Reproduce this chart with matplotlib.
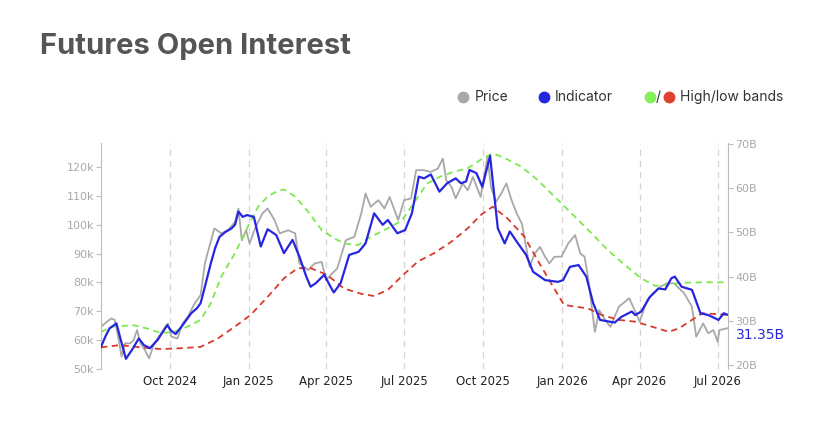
import numpy as np
import pandas as pd
import matplotlib.pyplot as plt
import matplotlib.dates as mdates
from matplotlib.lines import Line2D

# price (left axis, thousands)
price_dates = ["2024-07-13", "2024-07-20", "2024-07-25", "2024-07-29", "2024-08-02", "2024-08-06",
               "2024-08-10", "2024-08-16", "2024-08-20", "2024-08-24", "2024-08-28", "2024-09-02",
               "2024-09-07", "2024-09-13", "2024-09-21", "2024-09-29", "2024-10-03", "2024-10-10",
               "2024-10-16", "2024-10-22", "2024-10-30", "2024-11-06", "2024-11-11", "2024-11-14",
               "2024-11-22", "2024-11-30", "2024-12-08", "2024-12-16", "2024-12-20", "2024-12-24",
               "2024-12-29", "2025-01-02", "2025-01-09", "2025-01-17", "2025-01-23", "2025-01-31",
               "2025-02-06", "2025-02-16", "2025-02-24", "2025-03-01", "2025-03-11", "2025-03-19",
               "2025-03-27", "2025-04-01", "2025-04-08", "2025-04-14", "2025-04-24", "2025-05-04",
               "2025-05-12", "2025-05-17", "2025-05-23", "2025-06-01", "2025-06-08", "2025-06-14",
               "2025-06-24", "2025-07-01", "2025-07-09", "2025-07-15", "2025-07-23", "2025-08-01",
               "2025-08-09", "2025-08-15", "2025-08-19", "2025-08-25", "2025-08-30", "2025-09-07",
               "2025-09-13", "2025-09-19", "2025-09-28", "2025-10-06", "2025-10-10", "2025-10-16",
               "2025-10-22", "2025-10-28", "2025-11-03", "2025-11-09", "2025-11-15", "2025-11-20",
               "2025-11-24", "2025-11-30", "2025-12-06", "2025-12-12", "2025-12-17", "2025-12-23",
               "2025-12-31", "2026-01-08", "2026-01-16", "2026-01-22", "2026-01-27", "2026-01-31",
               "2026-02-08", "2026-02-13", "2026-02-20", "2026-02-26", "2026-03-08", "2026-03-20",
               "2026-03-28", "2026-04-01", "2026-04-10", "2026-04-17", "2026-04-25", "2026-05-03",
               "2026-05-11", "2026-05-23", "2026-06-01", "2026-06-06", "2026-06-14", "2026-06-20",
               "2026-06-26", "2026-07-01", "2026-07-03", "2026-07-12"]
price_k = [64.6, 66.4, 67.5, 67.0, 61.2, 54.3,
           58.9, 58.9, 60.0, 63.5, 58.9, 56.6,
           53.7, 58.9, 62.4, 65.8, 61.2, 60.6,
           65.8, 68.1, 72.7, 75.6, 86.6, 90.0,
           98.7, 97.0, 98.1, 101.0, 105.6, 94.6,
           98.1, 93.5, 99.2, 103.9, 105.6, 101.6,
           97.0, 98.1, 97.0, 86.6, 84.3, 86.6,
           87.1, 80.8, 83.1, 84.8, 94.6, 95.8,
           103.9, 110.8, 106.2, 108.5, 105.6, 109.6,
           101.6, 108.5, 109.1, 118.9, 118.9, 118.3,
           119.4, 122.9, 115.4, 113.1, 109.1, 114.3,
           111.9, 116.5, 109.6, 123.5, 113.1, 107.9,
           110.8, 114.3, 108.5, 103.9, 100.4, 92.3,
           85.4, 90.0, 92.3, 88.9, 86.6, 88.9,
           88.9, 93.5, 96.4, 90.0, 88.9, 81.9,
           62.9, 70.4, 67.0, 64.6, 71.6, 74.5,
           69.3, 66.4, 73.9, 76.2, 78.5, 79.7,
           79.7, 76.2, 71.6, 61.2, 65.8, 62.4,
           63.5, 59.4, 63.5, 64.1]

# indicator (right axis, billions)
ind_dates = ["2024-07-13", "2024-07-18", "2024-07-23", "2024-07-31", "2024-08-05", "2024-08-11",
             "2024-08-18", "2024-08-26", "2024-09-01", "2024-09-08", "2024-09-17", "2024-09-28",
             "2024-10-03", "2024-10-08", "2024-10-16", "2024-10-26", "2024-11-02", "2024-11-06",
             "2024-11-12", "2024-11-18", "2024-11-23", "2024-11-28", "2024-12-05", "2024-12-12",
             "2024-12-16", "2024-12-20", "2024-12-25", "2024-12-30", "2025-01-07", "2025-01-15",
             "2025-01-23", "2025-02-02", "2025-02-11", "2025-02-21", "2025-03-01", "2025-03-09",
             "2025-03-14", "2025-03-20", "2025-03-30", "2025-04-04", "2025-04-10", "2025-04-18",
             "2025-04-28", "2025-05-09", "2025-05-17", "2025-05-27", "2025-06-06", "2025-06-12",
             "2025-06-23", "2025-07-02", "2025-07-10", "2025-07-18", "2025-07-24", "2025-08-01",
             "2025-08-11", "2025-08-20", "2025-08-30", "2025-09-05", "2025-09-11", "2025-09-15",
             "2025-09-23", "2025-09-30", "2025-10-09", "2025-10-14", "2025-10-18", "2025-10-26",
             "2025-11-01", "2025-11-09", "2025-11-20", "2025-11-28", "2025-12-12", "2025-12-27",
             "2026-01-02", "2026-01-10", "2026-01-20", "2026-01-29", "2026-02-06", "2026-02-14",
             "2026-03-03", "2026-03-11", "2026-03-23", "2026-03-27", "2026-04-03", "2026-04-13",
             "2026-04-23", "2026-05-01", "2026-05-08", "2026-05-12", "2026-05-20", "2026-06-01",
             "2026-06-11", "2026-06-20", "2026-07-02", "2026-07-08", "2026-07-13"]
ind_b = [24.1, 26.4, 28.3, 29.4, 25.7, 21.4,
         23.4, 26.0, 24.5, 23.8, 25.7, 29.0,
         27.7, 27.0, 29.0, 31.7, 32.9, 34.0,
         38.5, 43.1, 46.5, 49.0, 50.1, 50.9,
         51.7, 54.7, 53.5, 53.9, 53.5, 46.8,
         50.7, 49.4, 45.3, 48.3, 44.5, 40.0,
         37.7, 38.5, 40.4, 38.5, 36.4, 38.5,
         44.9, 45.6, 47.5, 54.3, 51.7, 52.8,
         49.8, 50.5, 54.3, 62.6, 62.2, 63.1,
         59.2, 61.1, 62.2, 61.1, 61.5, 64.1,
         63.4, 60.3, 67.3, 58.1, 50.9, 47.5,
         50.2, 47.9, 44.9, 41.1, 39.2, 38.8,
         39.2, 42.2, 42.6, 40.0, 34.0, 30.2,
         29.6, 30.9, 32.1, 31.3, 32.1, 35.4,
         37.3, 37.1, 39.6, 40.0, 37.7, 37.0,
         31.7, 31.3, 30.2, 31.7, 31.35]

# high band (right axis)
high_dates = ["2024-07-13", "2024-07-27", "2024-08-20", "2024-09-04", "2024-09-21", "2024-10-06",
              "2024-10-22", "2024-11-06", "2024-11-18", "2024-11-30", "2024-12-16", "2024-12-31",
              "2025-01-12", "2025-01-23", "2025-02-04", "2025-02-11", "2025-02-24", "2025-03-11",
              "2025-03-27", "2025-04-10", "2025-04-22", "2025-05-08", "2025-05-23", "2025-06-08",
              "2025-06-28", "2025-07-12", "2025-07-28", "2025-08-12", "2025-08-28", "2025-09-13",
              "2025-09-28", "2025-10-12", "2025-10-26", "2025-11-14", "2025-12-03", "2025-12-27",
              "2026-01-16", "2026-02-04", "2026-02-23", "2026-03-15", "2026-04-03", "2026-04-19",
              "2026-05-01", "2026-05-20", "2026-06-13", "2026-07-13"]
high_b = [27.5, 28.7, 29.0, 28.3, 27.2, 27.5,
          28.7, 30.2, 34.0, 40.0, 45.3, 51.3,
          55.8, 58.1, 59.4, 59.7, 58.1, 54.7,
          50.5, 48.7, 47.5, 47.1, 49.0, 50.5,
          52.6, 56.6, 61.1, 62.6, 63.7, 64.5,
          66.4, 67.9, 66.8, 64.9, 61.9, 57.3,
          53.5, 49.8, 46.0, 42.6, 39.6, 37.9,
          38.1, 38.6, 38.7, 38.7]

# low band (right axis)
low_dates = ["2024-07-13", "2024-08-04", "2024-08-28", "2024-09-21", "2024-10-14", "2024-11-06",
             "2024-11-26", "2024-12-16", "2025-01-03", "2025-01-23", "2025-02-11", "2025-02-27",
             "2025-03-14", "2025-04-02", "2025-04-22", "2025-05-12", "2025-05-27", "2025-06-12",
             "2025-07-01", "2025-07-17", "2025-08-05", "2025-08-25", "2025-09-13", "2025-09-28",
             "2025-10-12", "2025-10-29", "2025-11-18", "2025-12-03", "2025-12-19", "2026-01-03",
             "2026-01-16", "2026-01-31", "2026-02-16", "2026-03-08", "2026-03-27", "2026-04-15",
             "2026-05-05", "2026-05-17", "2026-06-01", "2026-06-13", "2026-07-01", "2026-07-13"]
low_b = [24.0, 24.5, 24.0, 23.6, 23.8, 24.1,
         26.0, 28.7, 31.3, 35.4, 39.6, 41.9,
         41.9, 40.4, 37.3, 36.1, 35.6, 37.0,
         40.6, 43.4, 45.3, 47.9, 50.9, 53.9,
         55.8, 53.2, 49.0, 43.8, 38.5, 33.6,
         33.2, 32.8, 31.3, 30.2, 29.8, 28.7,
         27.5, 28.3, 30.2, 31.7, 31.5, 31.3]

quarter_ticks = ["2024-10-01", "2025-01-01", "2025-04-01", "2025-07-01",
                 "2025-10-01", "2026-01-01", "2026-04-01", "2026-07-01"]
left_ticks = [50, 60, 70, 80, 90, 100, 110, 120]
right_ticks = [20, 30, 40, 50, 60, 70]
last_label = "31.35B"

c_price = "#a8a8a8"
c_ind = "#2626e0"
c_high = "#7de84f"
c_low = "#d93a2b"
c_axis = "#bdbdbd"
c_tick = "#a9a9a9"

fig = plt.figure(figsize=(8.27, 4.25), dpi=100)
ax = fig.add_axes([101 / 827, 1 - 369 / 425, 627 / 827, 226 / 425])
ax2 = ax.twinx()

ax.plot(pd.to_datetime(price_dates), price_k, color=c_price, lw=1.3, zorder=2)
ax2.plot(pd.to_datetime(high_dates), high_b, color=c_high, lw=1.3, dashes=(3.5, 2.5))
ax2.plot(pd.to_datetime(low_dates), low_b, color=c_low, lw=1.3, dashes=(3.5, 2.5))
ax2.plot(pd.to_datetime(ind_dates), ind_b, color=c_ind, lw=1.6)

ax.set_xlim(pd.Timestamp("2024-07-13"), pd.Timestamp("2026-07-13"))
ax.set_ylim(50, 128.3)
ax2.set_ylim(19.1, 70.2)

ax.set_xticks(pd.to_datetime(quarter_ticks))
ax.xaxis.set_major_formatter(mdates.DateFormatter("%b %Y"))
ax.grid(axis="x", color="#d4d4d4", lw=0.9, dashes=(5, 4))
ax.set_axisbelow(True)

ax.set_yticks(left_ticks)
ax.set_yticklabels([f"{v}k" for v in left_ticks])
ax2.set_yticks(right_ticks)
ax2.set_yticklabels([f"{v}B" for v in right_ticks])

for a in (ax, ax2):
    for s in ("top", "bottom"):
        a.spines[s].set_visible(False)
    a.spines["left"].set_color(c_axis)
    a.spines["right"].set_color(c_axis)
ax.spines["right"].set_visible(False)
ax2.spines["left"].set_visible(False)

ax.tick_params(axis="x", length=0, pad=4, labelsize=8.5, labelcolor="#222222")
ax.tick_params(axis="y", length=3.5, width=0.8, color=c_axis, pad=1.5,
               labelsize=8, labelcolor=c_tick)
ax2.tick_params(axis="y", length=3.5, width=0.8, color=c_axis, pad=1.5,
                labelsize=8, labelcolor=c_tick)

# last value label sits just below the 30B tick label
ax2.text(1.013, 0.152, last_label, transform=ax2.transAxes,
         color=c_ind, fontsize=10, va="center", ha="left")

fig.text(40 / 827, 1 - 46 / 425, "Futures Open Interest", fontsize=21, fontweight="bold",
         family="Inter", color="#555555", va="center", ha="left")

# legend row
ly = 1 - 97 / 425
for xp, col in [(463, c_price), (544, c_ind), (650, "#86f05a"), (669, "#e0402f")]:
    fig.add_artist(Line2D([xp / 827], [ly], marker="o", markersize=7.5, color=col,
                          transform=fig.transFigure, lw=0))
leg_kw = dict(fontsize=10, family="Inter", color="#333333", va="center", ha="left")
fig.text(475 / 827, ly, "Price", **leg_kw)
fig.text(555 / 827, ly, "Indicator", **leg_kw)
fig.text(656 / 827, ly, "/", **leg_kw)
fig.text(680 / 827, ly, "High/low bands", **leg_kw)

fig.savefig("out.png", dpi=100)
